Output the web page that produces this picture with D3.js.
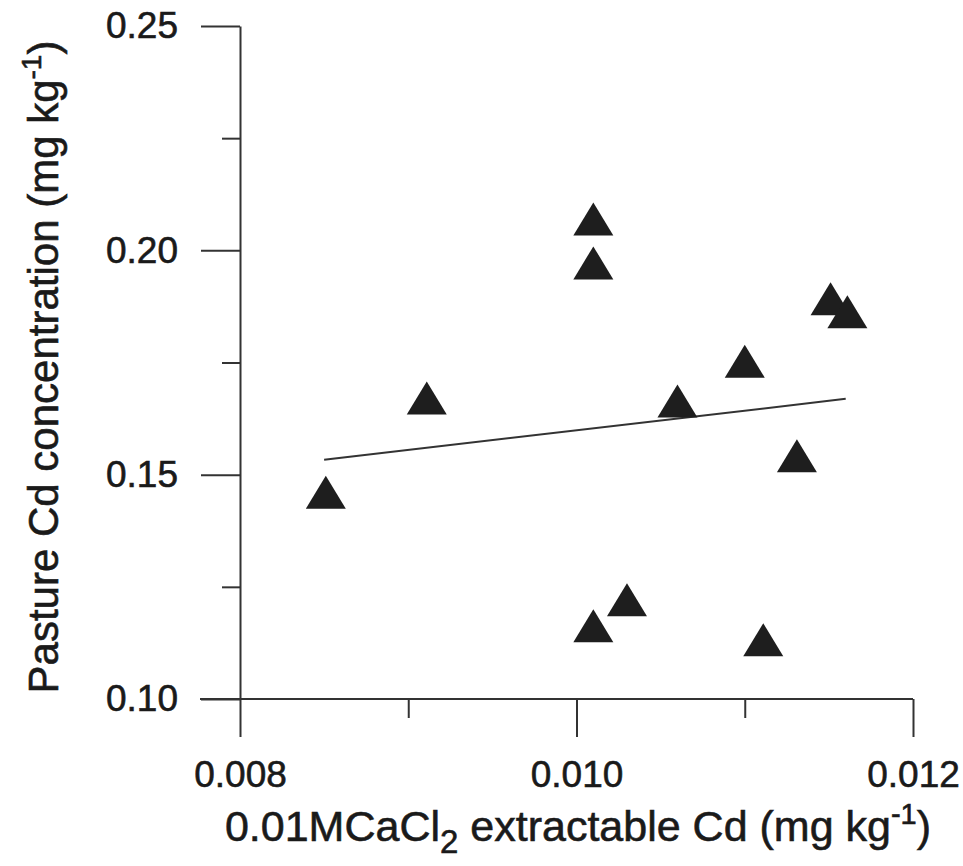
<!DOCTYPE html>
<html lang="en">
<head>
    <style>
        body { margin: 0; background: #fff; }
        text { font-family: "Liberation Sans", Arial, sans-serif; fill: #1a1a1a; stroke: #1a1a1a; stroke-width: 0.6; }
        .axis path, .axis line { stroke: #333; stroke-width: 2; }
    </style>
    <script src="https://d3js.org/d3.v7.min.js"></script>
</head>
<body>
    <svg width="963" height="866"></svg>
    <script>
        // extractable Cd (x) vs pasture Cd (y)
        var cdExtract = [0.00851, 0.00911, 0.01010, 0.01010, 0.01010, 0.01030, 0.01060, 0.01100, 0.01131, 0.01151, 0.01161, 0.01111];
        var cdPasture = [0.1461, 0.1671, 0.2070, 0.1972, 0.1163, 0.1221, 0.1664, 0.1753, 0.1542, 0.1892, 0.1863, 0.1132];
        // fitted regression line ends
        var fitX = [0.0085, 0.0116];
        var fitY = [0.1533, 0.1669];
        var xTicks = [0.008, 0.010, 0.012];
        var xMinor = [0.009, 0.011];
        var yTicks = [0.10, 0.15, 0.20, 0.25];
        var yMinor = [0.125, 0.175, 0.225];

        var svg = d3.select("svg");
        var mLeft = 240, mTop = 26, mRight = 913, mBottom = 699;

        var x = d3.scaleLinear().domain([0.008, 0.012]).range([mLeft, mRight]);
        var y = d3.scaleLinear().domain([0.10, 0.25]).range([mBottom, mTop]);

        // minor ticks, no labels
        svg.append("g")
            .attr("class", "axis")
            .attr("transform", "translate(0," + mBottom + ")")
            .call(d3.axisBottom(x).tickValues(xMinor).tickSize(19).tickFormat(""))
            .select(".domain").remove();

        svg.append("g")
            .attr("class", "axis")
            .attr("transform", "translate(" + mLeft + ",0)")
            .call(d3.axisLeft(y).tickValues(yMinor).tickSize(18).tickFormat(""))
            .select(".domain").remove();

        var xAxis = svg.append("g")
            .attr("class", "axis")
            .attr("transform", "translate(0," + mBottom + ")")
            .call(d3.axisBottom(x).tickValues(xTicks).tickSize(38).tickSizeOuter(0)
                .tickPadding(24).tickFormat(d3.format(".3f")));
        xAxis.selectAll("text").attr("font-size", "37px").attr("fill", null);
        xAxis.select(".domain").attr("d", "M" + (mLeft - 40) + ",0H" + mRight);

        var yAxis = svg.append("g")
            .attr("class", "axis")
            .attr("transform", "translate(" + mLeft + ",0)")
            .call(d3.axisLeft(y).tickValues(yTicks).tickSize(39).tickSizeOuter(0)
                .tickPadding(23).tickFormat(d3.format(".2f")));
        yAxis.selectAll("text").attr("font-size", "37px").attr("fill", null);
        svg.selectAll(".axis").attr("font-family", null).attr("font-size", null);

        // axis titles
        var xt = svg.append("text")
            .attr("x", 578)
            .attr("y", 841)
            .attr("text-anchor", "middle")
            .attr("font-size", "43px");
        xt.append("tspan").text("0.01MCaCl");
        xt.append("tspan").attr("font-size", "33px").attr("dy", 12).text("2");
        xt.append("tspan").attr("dy", -12).text(" extractable Cd (mg kg");
        xt.append("tspan").attr("font-size", "29px").attr("dy", -17).text("-1");
        xt.append("tspan").attr("dy", 17).text(")");

        var yt = svg.append("text")
            .attr("transform", "translate(58,367) rotate(-90)")
            .attr("text-anchor", "middle")
            .attr("font-size", "42px");
        yt.append("tspan").text("Pasture Cd concentration (mg kg");
        yt.append("tspan").attr("font-size", "28px").attr("dy", -17).text("-1");
        yt.append("tspan").attr("dy", 17).text(")");

        // regression line
        var line = d3.line()
            .x(function(d, i) { return x(fitX[i]); })
            .y(function(d) { return y(d); });
        svg.append("path")
            .attr("d", line(fitY))
            .attr("fill", "none")
            .attr("stroke", "#333")
            .attr("stroke-width", 2);

        // triangle markers
        var tri = "M0,-16.5L20,16.5L-20,16.5Z";
        svg.selectAll(".pt")
            .data(cdExtract)
            .enter().append("path")
            .attr("class", "pt")
            .attr("d", tri)
            .attr("fill", "#1e1e1e")
            .attr("transform", function(d, i) {
                return "translate(" + x(d) + "," + y(cdPasture[i]) + ")";
            });
    </script>
</body>
</html>
